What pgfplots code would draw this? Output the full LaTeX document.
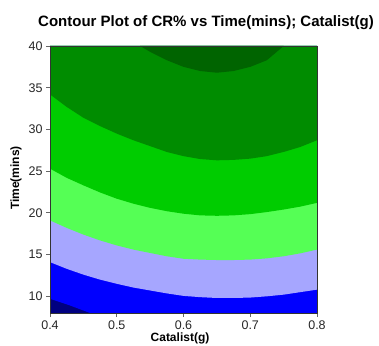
\documentclass[border=0pt]{standalone}
\usepackage{fontspec}
\setmainfont{Liberation Sans}
\usepackage{pgfplots}
\pgfplotsset{compat=1.18}
\definecolor{cnavy}{HTML}{000080}
\definecolor{cblue}{HTML}{0000FF}
\definecolor{clav}{HTML}{A6A6FF}
\definecolor{clgreen}{HTML}{55FF55}
\definecolor{cgreen}{HTML}{00CC00}
\definecolor{cdgreen}{HTML}{008C00}
\definecolor{cddgreen}{HTML}{006400}
\begin{document}
\begin{tikzpicture}
\path[use as bounding box] (-50pt,-32pt) rectangle (329pt,313pt);
\begin{axis}[
  at={(0,0)}, anchor=south west,
  scale only axis, width=267pt, height=267pt,
  xmin=0.4, xmax=0.8, ymin=8, ymax=40,
  xtick={0.4,0.5,0.6,0.7,0.8},
  ytick={10,15,20,25,30,35,40},
  xticklabels={0.4,0.5,0.6,0.7,0.8},
  tick align=outside, tick pos=left,
  major tick length=4pt,
  tick style={black!60, line width=0.8pt},
  axis line style={black!80, line width=0.8pt},
  ticklabel style={font=\fontsize{12.5}{14}\selectfont, text=black!85},
  /pgf/number format/assume math mode=true,
  axis on top,
]
\addplot[fill=cnavy, draw=none] coordinates {(0.4,8) (0.8,8) (0.8,40) (0.4,40)};
\addplot[fill=cblue, draw=none] coordinates {(0.4,9.7) (0.43,8.9) (0.46,8) (0.8,8) (0.8,40) (0.4,40)};
\addplot[fill=clav, draw=none] coordinates {(0.4,14.1) (0.425,13.3) (0.45,12.6) (0.475,12.0) (0.5,11.5) (0.525,11.05) (0.55,10.7) (0.575,10.35) (0.6,10.05) (0.625,9.9) (0.65,9.8) (0.675,9.8) (0.7,9.85) (0.725,10.0) (0.75,10.2) (0.775,10.5) (0.8,10.8) (0.8,40) (0.4,40)};
\addplot[fill=clgreen, draw=none] coordinates {(0.4,19.1) (0.425,18.2) (0.45,17.4) (0.475,16.7) (0.5,16.1) (0.525,15.6) (0.55,15.2) (0.575,14.8) (0.6,14.5) (0.625,14.4) (0.65,14.35) (0.675,14.35) (0.7,14.4) (0.725,14.55) (0.75,14.8) (0.775,15.15) (0.8,15.6) (0.8,40) (0.4,40)};
\addplot[fill=cgreen, draw=none] coordinates {(0.4,25.3) (0.425,24.2) (0.45,23.3) (0.475,22.45) (0.5,21.7) (0.525,21.1) (0.55,20.6) (0.575,20.2) (0.6,19.9) (0.625,19.7) (0.65,19.65) (0.675,19.7) (0.7,19.85) (0.725,20.1) (0.75,20.4) (0.775,20.75) (0.8,21.2) (0.8,40) (0.4,40)};
\addplot[fill=cdgreen, draw=none] coordinates {(0.4,34.2) (0.425,32.7) (0.45,31.4) (0.475,30.4) (0.5,29.5) (0.525,28.7) (0.55,28.0) (0.575,27.3) (0.6,26.8) (0.625,26.45) (0.65,26.3) (0.675,26.35) (0.7,26.5) (0.725,26.8) (0.75,27.3) (0.775,27.9) (0.8,28.7) (0.8,40) (0.4,40)};
\addplot[fill=cddgreen, draw=none] coordinates {(0.535,40) (0.55,39.3) (0.575,38.3) (0.6,37.5) (0.625,37.0) (0.65,36.8) (0.675,37.0) (0.7,37.5) (0.725,38.3) (0.75,40)};
\end{axis}
\node[anchor=base, font=\bfseries\fontsize{15}{17}\selectfont] at (156pt,286pt) {Contour Plot of CR\% vs Time(mins); Catalist(g)};
\node[anchor=base, rotate=90, font=\bfseries\fontsize{12}{14}\selectfont] at (-31pt,135pt) {Time(mins)};
\node[anchor=base, font=\bfseries\fontsize{12}{14}\selectfont] at (130pt,-28.5pt) {Catalist(g)};
\end{tikzpicture}
\end{document}
